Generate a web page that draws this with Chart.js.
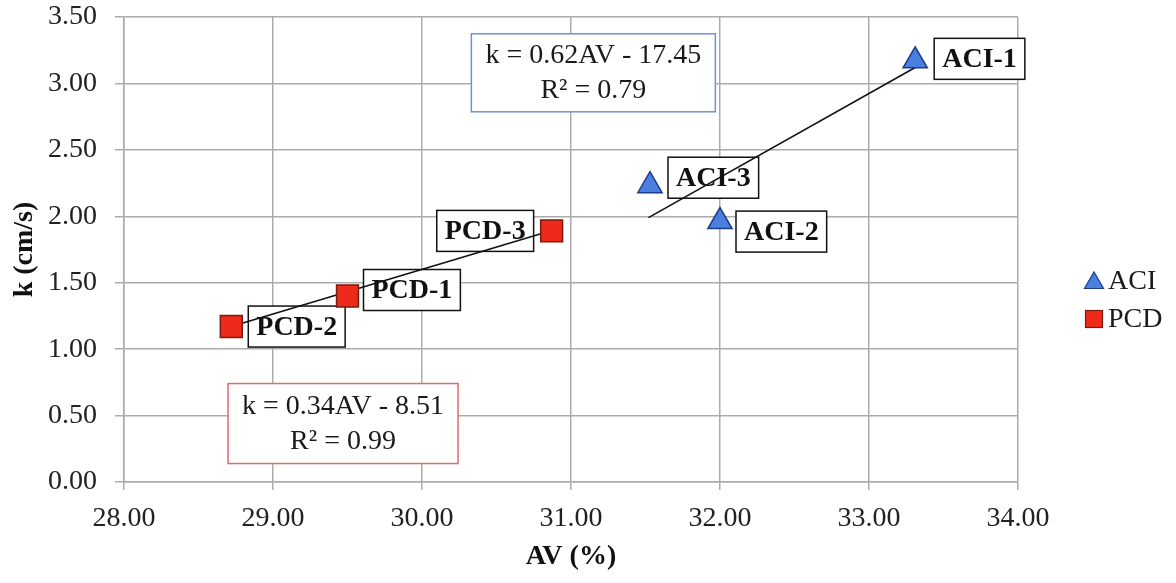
<!DOCTYPE html>
<html>
<head>
<meta charset="utf-8">
<script src="https://cdn.jsdelivr.net/npm/chart.js@4.4.1/dist/chart.umd.min.js"></script>
<style>
html,body{margin:0;padding:0;background:#fff;}
#wrap{width:1176px;height:583px;position:relative;}
</style>
</head>
<body>
<div id="wrap"><canvas id="c" width="1176" height="583"></canvas></div>
<script>
// ---- data ----
const aciNames = ['ACI-1', 'ACI-2', 'ACI-3'];
const aciAV = [33.31, 32.00, 31.53];
const aciK = [3.17, 1.96, 2.23];
const pcdNames = ['PCD-1', 'PCD-2', 'PCD-3'];
const pcdAV = [29.50, 28.72, 30.87];
const pcdK = [1.40, 1.17, 1.89];
const aciTrendAV = [31.52, 33.31];
const aciTrendK = [1.99, 3.12];
const pcdTrendAV = [28.72, 30.86];
const pcdTrendK = [1.17, 1.89];
const aciEquation = ['k = 0.62AV - 17.45', 'R\u00B2 = 0.79'];
const pcdEquation = ['k = 0.34AV - 8.51', 'R\u00B2 = 0.99'];
const aciEqAnchor = [31.15, 3.08];
const pcdEqAnchor = [29.47, 0.44];
const xMin = 28, xMax = 34, xStep = 1;
const yMin = 0, yMax = 3.5, yStep = 0.5;
const seriesNames = ['ACI', 'PCD'];

// ---- styles ----
const FONT = "'Liberation Serif', 'Times New Roman', 'DejaVu Serif', serif";
const GRID = '#ababab';
const ACI_FILL = '#4a7fe0', ACI_EDGE = '#1d3c8a';
const PCD_FILL = '#ee2a1a', PCD_EDGE = '#7a1a10';
const labelPlace = {
  'ACI-1': {side: 'right', dx: 19, dy: -2},
  'ACI-2': {side: 'right', dx: 16, dy: 10},
  'ACI-3': {side: 'right', dx: 18, dy: -8},
  'PCD-1': {side: 'right', dx: 16, dy: -6},
  'PCD-2': {side: 'right', dx: 17, dy: 0},
  'PCD-3': {side: 'left', dx: 18, dy: 0}
};

const pts = (xs, ys) => xs.map((x, i) => ({x: x, y: ys[i]}));

function drawTri(ctx, x, y, r) {
  ctx.beginPath();
  ctx.moveTo(x, y - r);
  ctx.lineTo(x + r * 0.866, y + r * 0.5);
  ctx.lineTo(x - r * 0.866, y + r * 0.5);
  ctx.closePath();
}

const annotations = {
  id: 'annotations',
  beforeDatasetsDraw(chart) {
    const ctx = chart.ctx, xs = chart.scales.x, ys = chart.scales.y;
    ctx.save();
    const eqs = [
      {lines: aciEquation, a: aciEqAnchor, w: 244, h: 78, color: '#6f8fdc'},
      {lines: pcdEquation, a: pcdEqAnchor, w: 230, h: 80, color: '#dc6a6f'}
    ];
    ctx.font = '28px ' + FONT;
    ctx.textAlign = 'center';
    ctx.textBaseline = 'middle';
    eqs.forEach(e => {
      const cx = xs.getPixelForValue(e.a[0]);
      const cy = ys.getPixelForValue(e.a[1]);
      ctx.fillStyle = '#fff';
      ctx.fillRect(cx - e.w / 2, cy - e.h / 2, e.w, e.h);
      ctx.strokeStyle = e.color;
      ctx.lineWidth = 1.5;
      ctx.strokeRect(cx - e.w / 2, cy - e.h / 2, e.w, e.h);
      ctx.fillStyle = '#1a1a1a';
      ctx.fillText(e.lines[0], cx, cy - 17);
      ctx.fillText(e.lines[1], cx, cy + 18);
    });
    ctx.font = 'bold 28px ' + FONT;
    const groups = [[aciNames, aciAV, aciK], [pcdNames, pcdAV, pcdK]];
    groups.forEach(g => {
      g[0].forEach((name, i) => {
        const px = xs.getPixelForValue(g[1][i]);
        const py = ys.getPixelForValue(g[2][i]);
        const pl = labelPlace[name];
        const tw = ctx.measureText(name).width;
        const bw = tw + 16, bh = 41;
        const left = pl.side === 'right' ? px + pl.dx : px - pl.dx - bw;
        const cy = py + pl.dy;
        ctx.fillStyle = '#fff';
        ctx.fillRect(left, cy - bh / 2, bw, bh);
        ctx.strokeStyle = '#111';
        ctx.lineWidth = 1.5;
        ctx.strokeRect(left, cy - bh / 2, bw, bh);
        ctx.fillStyle = '#111';
        ctx.textAlign = 'left';
        ctx.fillText(name, left + 8, cy + 1);
      });
    });
    ctx.restore();
  },
  afterDraw(chart) {
    const ctx = chart.ctx;
    ctx.save();
    const lx = 1094;
    const ly = [281, 319];
    drawTri(ctx, lx, ly[0] + 2, 11);
    ctx.fillStyle = ACI_FILL; ctx.fill();
    ctx.strokeStyle = ACI_EDGE; ctx.lineWidth = 1.2; ctx.stroke();
    ctx.fillStyle = PCD_FILL;
    ctx.fillRect(lx - 8.5, ly[1] - 8.5, 17, 17);
    ctx.strokeStyle = PCD_EDGE;
    ctx.strokeRect(lx - 8.5, ly[1] - 8.5, 17, 17);
    ctx.font = '28px ' + FONT;
    ctx.fillStyle = '#1a1a1a';
    ctx.textAlign = 'left';
    ctx.textBaseline = 'middle';
    ctx.fillText(seriesNames[0], 1108, ly[0] + 1);
    ctx.fillText(seriesNames[1], 1108, ly[1] + 1);
    ctx.restore();
  }
};

new Chart(document.getElementById('c'), {
  type: 'scatter',
  data: {
    datasets: [
      {
        label: seriesNames[0],
        data: pts(aciAV, aciK),
        pointStyle: 'triangle',
        radius: 14,
        backgroundColor: ACI_FILL,
        borderColor: ACI_EDGE,
        borderWidth: 1.5
      },
      {
        label: seriesNames[1],
        data: pts(pcdAV, pcdK),
        pointStyle: 'rect',
        radius: 15.5,
        backgroundColor: PCD_FILL,
        borderColor: PCD_EDGE,
        borderWidth: 1.5
      },
      {
        label: 'ACI trend',
        type: 'line',
        data: pts(aciTrendAV, aciTrendK),
        borderColor: '#111',
        borderWidth: 1.6,
        pointRadius: 0,
        fill: false
      },
      {
        label: 'PCD trend',
        type: 'line',
        data: pts(pcdTrendAV, pcdTrendK),
        borderColor: '#111',
        borderWidth: 1.6,
        pointRadius: 0,
        fill: false
      }
    ]
  },
  options: {
    responsive: false,
    animation: false,
    layout: {padding: {left: 0, right: 158, top: 16, bottom: 0}},
    plugins: {legend: {display: false}, tooltip: {enabled: false}},
    scales: {
      x: {
        type: 'linear', min: xMin, max: xMax,
        ticks: {stepSize: xStep, callback: v => Number(v).toFixed(2), font: {family: FONT, size: 28}, color: '#222', padding: 12, maxRotation: 0},
        grid: {color: GRID, lineWidth: 1.5, tickLength: 8},
        border: {color: GRID, width: 1.5},
        title: {display: true, text: 'AV (%)', font: {family: FONT, size: 28, weight: 'bold'}, color: '#111', padding: {top: 0, bottom: 9}},
        afterFit: s => { s.height = 101; s.paddingLeft = 0; }
      },
      y: {
        type: 'linear', min: yMin, max: yMax,
        ticks: {stepSize: yStep, callback: v => Number(v).toFixed(2), font: {family: FONT, size: 28}, color: '#222', padding: 18},
        grid: {color: GRID, lineWidth: 1.5, tickLength: 9},
        border: {color: GRID, width: 1.5},
        title: {display: true, text: 'k (cm/s)', font: {family: FONT, size: 28, weight: 'bold'}, color: '#111', padding: {top: 8, bottom: 0}},
        afterFit: s => { s.width = 124; s.paddingTop = 0; s.paddingBottom = 0; }
      }
    }
  },
  plugins: [annotations]
});
</script>
</body>
</html>
